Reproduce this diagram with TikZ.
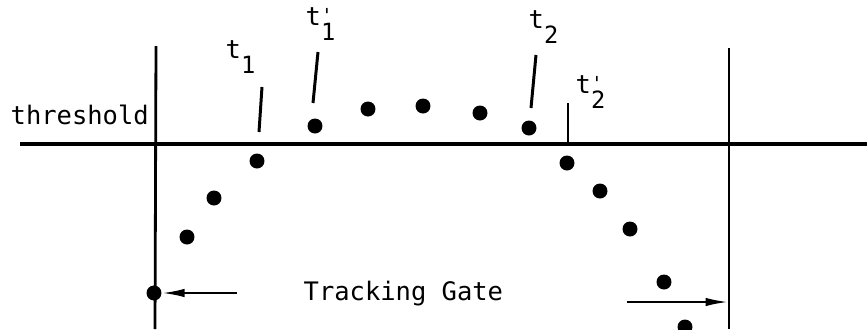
\documentclass[tikz,border=0pt]{standalone}
\usepackage{fontspec}
\setmonofont{DejaVu Sans Mono}
\usetikzlibrary{positioning,arrows.meta}

\newcommand{\tsub}[2]{t\raisebox{-0.6em}{\makebox[0pt][l]{\raisebox{0.7em}{\fontsize{11}{11}\selectfont#2}}\fontsize{13.5}{13.5}\selectfont#1}}

\begin{document}
\begin{tikzpicture}[x=0.02cm, y=-0.02cm, thick,
    sample/.style={circle, fill, inner sep=0pt, minimum size=0.3cm},
    lbl/.style={font=\ttfamily\fontsize{14.5}{17}\selectfont, inner sep=0pt, anchor=base west},
    tick/.style={line width=1.7pt},
    gate/.style={line width=1.6pt},
    tip/.style={-{Latex[length=0.45cm, width=0.17cm]}, line width=1.2pt}]
    \useasboundingbox (0,0) rectangle (867,329);
    % threshold and gate
    \coordinate (thl) at (20,144);
    \coordinate (thr) at (867,144);
    \coordinate (gltop) at (156,46);
    \coordinate (glbot) at (155,329);
    \coordinate (grtop) at (729,48);
    \coordinate (grbot) at (729,329);
    \draw[line width=1.9pt] (thl) -- (thr);
    \draw[gate] (gltop) -- (glbot);
    \draw[gate] (grtop) -- (grbot);
    \node[lbl] (thresh) at (10,124) {threshold};
    % samples
    \node[sample] (s1) at (154,293) {};
    \node[sample] (s2) at (187,237) {};
    \node[sample] (s3) at (214,198) {};
    \node[sample] (s4) at (257,161) {};
    \node[sample] (s5) at (315,126) {};
    \node[sample] (s6) at (368,109) {};
    \node[sample] (s7) at (423,106) {};
    \node[sample] (s8) at (480,113) {};
    \node[sample] (s9) at (529,128) {};
    \node[sample] (s10) at (567,163) {};
    \node[sample] (s11) at (600,191) {};
    \node[sample] (s12) at (630,229) {};
    \node[sample] (s13) at (664,282) {};
    \node[sample] (s14) at (685,327) {};
    % crossing times
    \coordinate (k1a) at (262,87);
    \coordinate (k1b) at (259,132);
    \coordinate (k2a) at (318,52);
    \coordinate (k2b) at (313,103);
    \coordinate (k3a) at (536,55);
    \coordinate (k3b) at (531,108);
    \coordinate (k4a) at (568,103);
    \coordinate (k4b) at (568,144);
    \draw[tick] (k1a) -- (k1b);
    \draw[tick] (k2a) -- (k2b);
    \draw[tick] (k3a) -- (k3b);
    \draw[line width=1pt] (k4a) -- (k4b);
    \node[lbl] (t1) at (225,58) {\tsub{1}{}};
    \node[lbl] (t1p) at (305,25) {\tsub{1}{'}};
    \node[lbl] (t2) at (528,28) {\tsub{2}{}};
    \node[lbl] (t2p) at (575,93) {\tsub{2}{'}};
    % tracking gate
    \node[lbl] (track) at (303,300) {Tracking Gate};
    \coordinate (al) at (237,293);
    \coordinate (ar) at (627,302);
    \coordinate (gr) at (728,302);
    \draw[tip] (al) -- (s1);
    \draw[tip] (ar) -- (gr);
\end{tikzpicture}
\end{document}
